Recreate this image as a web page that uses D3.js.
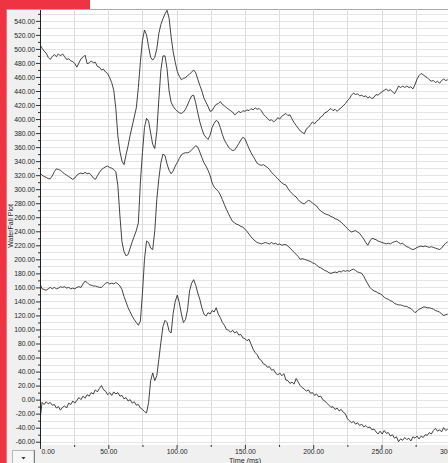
<!DOCTYPE html>
<html>
<head>
<meta charset="utf-8">
<script src="https://cdn.jsdelivr.net/npm/d3@7"></script>
<style>
body{margin:0;background:#fff;}
svg{display:block;font-family:"Liberation Sans",Arial,sans-serif;}
</style>
</head>
<body>
<svg></svg>
<script>
const timeStep = 1.5;//ms between two samples of a trace

const yTicks = [-60,-40,-20,0,20,40,60,80,100,120,140,160,180,200,220,240,260,280,300,320,340,360,380,400,420,440,460,480,500,520,540];
const xTicks = [0,50,100,150,200,250,300];

// waterfall traces, bottom one first, one value every 1.5 ms
const trace1 = [
-29,-4,-7,-3,-6,-4,-8,-7,-12,-10,
-15,-11,-9,-12,-5,-7,-2,-5,-1,3,
0,5,2,7,5,10,8,14,11,16,
20,14,12,7,10,6,11,8,10,5,
6,1,3,-2,0,-5,-3,-8,-7,-12,
-14,-17,-19,-4,27,38,27,34,57,82,
104,113,110,98,95,123,140,149,138,122,
110,114,128,155,166,171,163,152,143,131,
122,119,124,122,127,125,131,122,117,110,
106,100,99,96,99,95,97,92,93,88,
87,84,86,79,72,67,64,58,56,51,
50,46,47,42,43,38,35,38,34,37,
28,27,23,25,22,30,25,20,17,15,
12,14,9,10,6,8,4,5,0,-2,
-5,-8,-11,-10,-14,-12,-16,-14,-18,-20,
-27,-30,-33,-31,-35,-33,-37,-35,-39,-37,
-40,-39,-43,-42,-46,-49,-45,-49,-44,-48,
-47,-52,-50,-55,-53,-60,-56,-58,-54,-57,
-55,-59,-53,-55,-52,-56,-52,-54,-50,-51,
-47,-49,-44,-41,-45,-43,-46,-40,-44,-42];

const trace2 = [
165,158,157,156,158,160,158,160,158,159,
161,160,161,159,160,158,159,158,160,161,
160,165,169,167,164,163,162,162,161,160,
160,163,166,167,165,166,165,167,165,162,
157,147,139,131,125,119,114,110,106,112,
152,200,226,224,216,214,240,285,315,338,
350,348,336,327,322,326,333,338,344,349,
351,352,352,353,356,359,362,360,353,345,
338,333,327,320,309,303,300,297,292,285,
278,271,265,259,254,252,250,249,247,246,
243,240,236,232,229,226,224,223,222,223,
224,223,222,224,222,223,221,222,220,221,
221,219,216,213,210,207,204,200,201,200,
199,198,197,195,194,192,189,188,186,184,
183,181,180,181,182,181,183,182,184,183,
184,183,185,186,184,182,181,180,176,170,
165,160,157,155,154,152,151,149,146,144,
143,141,140,137,136,135,135,134,133,133,
131,130,127,124,126,129,130,132,132,131,
131,130,129,127,126,125,122,120,121,122];

const trace3 = [
323,320,318,317,315,315,319,325,329,328,
327,324,322,320,318,316,314,316,320,322,
323,322,324,322,323,320,316,314,319,324,
328,330,332,333,331,330,328,325,305,262,
225,211,205,207,216,225,233,241,252,310,
352,388,401,397,380,364,358,382,428,470,
490,490,472,440,424,418,414,411,409,408,
410,414,420,427,433,434,423,409,396,386,
378,374,371,377,388,394,398,396,388,378,
370,365,360,357,355,356,360,365,370,374,
372,365,358,352,347,342,337,335,334,335,
333,331,328,324,321,318,315,312,309,307,
306,301,297,294,291,289,285,282,280,279,
282,284,283,280,278,276,272,269,267,265,
264,263,261,260,258,257,255,253,250,247,
244,241,239,240,241,239,237,233,229,224,
220,226,230,229,228,226,225,224,223,222,
223,222,224,225,226,224,222,223,220,218,
217,215,214,215,217,218,219,218,219,218,
217,218,217,216,215,214,216,220,223,225];

const trace4 = [
506,501,497,494,488,485,489,492,489,493,
490,493,489,485,486,483,482,479,474,480,
486,488,491,479,480,483,480,481,475,474,
470,471,467,465,459,452,441,415,376,354,
340,335,349,362,377,390,403,416,445,482,
512,527,520,503,488,484,488,500,522,535,
543,550,555,544,517,496,481,468,461,456,
458,459,462,464,467,470,466,457,448,440,
430,424,418,411,412,417,421,422,425,421,
419,416,414,412,410,406,408,411,409,412,
411,413,412,415,413,416,414,415,412,407,
404,401,398,399,396,398,402,400,404,406,
408,405,406,400,395,391,387,383,381,379,
386,388,392,396,393,397,399,403,405,409,
410,413,415,412,414,411,414,416,419,422,
426,429,434,437,435,436,433,434,432,433,
430,432,429,431,435,434,437,439,441,443,
440,442,439,436,441,447,445,447,445,447,
445,446,443,449,457,462,465,463,461,459,
456,454,455,452,454,451,455,457,455,456];

const traces = [trace1, trace2, trace3, trace4];

const w = 448;//width of the window
const h = 463;//height of the window
const plotLeft = 40;//y axis position
const plotTop = 9.5;//top of the plot
const plotBottom = 445;//x axis position

let svg = d3.select("svg");
let xScale, yScale;

let drawChart = () => {
    svg.attr("width", w).attr("height", h);

    svg.append("rect")//grey panel round the plot
        .attr("x", 6.7).attr("y", plotTop)
        .attr("width", w - 6.7).attr("height", h - plotTop)
        .attr("fill", "#f0f0f0");
    svg.append("rect")//white plot area
        .attr("x", plotLeft).attr("y", plotTop)
        .attr("width", w - plotLeft).attr("height", plotBottom - plotTop)
        .attr("fill", "#fff");
    svg.append("rect").attr("x", 0).attr("y", 0).attr("width", 6.7).attr("height", h).attr("fill", "#ee3342");
    svg.append("rect").attr("x", 0).attr("y", 0).attr("width", 90).attr("height", plotTop).attr("fill", "#ee3342");
    svg.append("line")
        .attr("x1", 6.7).attr("x2", w).attr("y1", plotTop).attr("y2", plotTop)
        .attr("stroke", "#a8a8a8");

    svg.append("clipPath").attr("id", "plotClip")
        .append("rect")
        .attr("x", plotLeft).attr("y", plotTop)
        .attr("width", w - plotLeft).attr("height", plotBottom - plotTop);
}

let generateScales = () => {
    xScale = d3.scaleLinear()
        .domain([0, 300])
        .range([plotLeft, 449.8]);

    yScale = d3.scaleLinear()
        .domain([-64.7, 556.2])
        .range([plotBottom, plotTop]);
}

let drawGrid = () => {
    let grid = svg.append("g").attr("stroke", "#e4e4e4").attr("stroke-width", 1);

    grid.selectAll(".hgrid")
        .data(d3.range(-60, 551, 10))
        .enter()
        .append("line")
        .attr("x1", plotLeft).attr("x2", w)
        .attr("y1", d => Math.round(yScale(d)) + 0.5)
        .attr("y2", d => Math.round(yScale(d)) + 0.5);

    grid.selectAll(".vgrid")
        .data(d3.range(25, 300, 25))
        .enter()
        .append("line")
        .attr("x1", d => Math.round(xScale(d)) + 0.5)
        .attr("x2", d => Math.round(xScale(d)) + 0.5)
        .attr("y1", plotTop).attr("y2", plotBottom)
        .attr("stroke", "#dcdcdc");
}

let generateAxes = () => {
    let fmt = d => d.toFixed(2);//plain hyphen, two decimals

    let yAxis = d3.axisLeft(yScale)
        .tickValues(yTicks)
        .tickFormat(fmt)
        .tickSize(4)
        .tickSizeOuter(0)
        .tickPadding(1);

    let gy = svg.append("g")
        .attr("id", "y-axis")
        .attr("transform", "translate(" + plotLeft + ",0)")
        .call(yAxis);

    let yMinor = d3.axisLeft(yScale)
        .tickValues(d3.range(-50, 551, 20))
        .tickFormat("")
        .tickSize(2)
        .tickSizeOuter(0);

    svg.append("g")
        .attr("transform", "translate(" + plotLeft + ",0)")
        .call(yMinor)
        .select(".domain").remove();

    let xAxis = d3.axisBottom(xScale)
        .tickValues(xTicks)
        .tickFormat(fmt)
        .tickSize(4)
        .tickSizeOuter(0)
        .tickPadding(0.5);

    let gx = svg.append("g")
        .attr("id", "x-axis")
        .attr("transform", "translate(0," + plotBottom + ")")
        .call(xAxis);
    gx.select(".domain").remove();

    let xMinor = d3.axisBottom(xScale)
        .tickValues(d3.range(25, 300, 50))
        .tickFormat("")
        .tickSize(2)
        .tickSizeOuter(0);

    svg.append("g")
        .attr("transform", "translate(0," + plotBottom + ")")
        .call(xMinor)
        .select(".domain").remove();

    gx.selectAll(".tick")
        .filter(d => d === 0)
        .select("text")
        .attr("text-anchor", "start")
        .attr("x", 1);//first label sits right of the axis

    svg.selectAll(".tick text")
        .attr("font-size", "6.8px")
        .attr("font-family", "Liberation Sans, Arial, sans-serif")
        .attr("fill", "#262626");
    svg.selectAll(".tick line").attr("stroke", "#333");
    gy.select(".domain").attr("stroke", "#222");

    svg.append("text")//x axis title
        .attr("x", 245).attr("y", 462.6)
        .attr("text-anchor", "middle")
        .attr("font-size", "7.2px")
        .attr("fill", "#262626")
        .text("Time (ms)");

    svg.append("text")//y axis title
        .attr("transform", "translate(12.8,226) rotate(-90)")
        .attr("text-anchor", "middle")
        .attr("font-size", "7px")
        .attr("fill", "#262626")
        .text("WaterFall Plot");
}

let drawLines = () => {
    let line = d3.line()
        .x((d, i) => xScale(i * timeStep))
        .y(d => yScale(d));

    svg.append("g")
        .attr("clip-path", "url(#plotClip)")
        .selectAll("path")
        .data(traces)
        .enter()
        .append("path")
        .attr("d", line)
        .attr("fill", "none")
        .attr("stroke", "#222")
        .attr("stroke-width", 0.85)
        .attr("stroke-linejoin", "round");
}

let drawWidget = () => {//small drop-down box in the bottom corner
    svg.append("rect")
        .attr("x", 12.5).attr("y", 450.5)
        .attr("width", 21.5).attr("height", 14)
        .attr("fill", "#f7f7f7")
        .attr("stroke", "#b8b8b8");
    svg.append("line")
        .attr("x1", 34.5).attr("x2", 34.5).attr("y1", 450).attr("y2", h)
        .attr("stroke", "#808080");
    svg.append("path")
        .attr("d", "M21.5,457 L25.5,457 L23.5,459.5 Z")
        .attr("fill", "#333");
}

drawChart();
generateScales();
drawGrid();
generateAxes();
drawLines();
drawWidget();
</script>
</body>
</html>
